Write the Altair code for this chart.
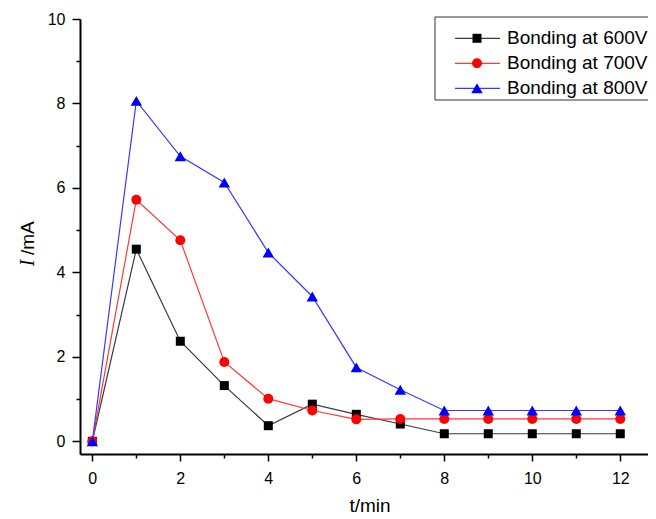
import altair as alt
import pandas as pd

# ---- data ----
t_min = list(range(13))
i_600 = [0.0, 4.55, 2.37, 1.32, 0.37, 0.88, 0.64, 0.41, 0.18, 0.18, 0.18, 0.18, 0.18]
i_700 = [0.0, 5.72, 4.76, 1.88, 1.01, 0.73, 0.52, 0.53, 0.53, 0.53, 0.53, 0.53, 0.53]
i_800 = [0.0, 8.06, 6.75, 6.13, 4.47, 3.43, 1.75, 1.22, 0.73, 0.73, 0.73, 0.73, 0.73]
series_names = ["Bonding at 600V", "Bonding at 700V", "Bonding at 800V"]
x_ticks = list(range(13))
y_ticks = list(range(11))

# ---- styles ----
marker_colors = ["#000000", "#ff0000", "#0000ff"]
line_colors = ["#3a3a3a", "#ff3838", "#3838ff"]
shapes = ["square", "circle", "triangle-up"]
sizes = [81, 100, 130]
FONT = "Liberation Sans"

x_axis = alt.Axis(
    values=x_ticks, title=None, grid=False,
    labelExpr="datum.value % 2 === 0 ? datum.label : ''",
    tickSize={"condition": {"test": "datum.value % 2 === 0", "value": 7}, "value": 4},
    labelFlush=False, labelOverlap=False, labelPadding=9,
)
y_axis = alt.Axis(
    values=y_ticks, title=None, grid=False,
    labelExpr="datum.value % 2 === 0 ? datum.label : ''",
    tickSize={"condition": {"test": "datum.value % 2 === 0", "value": 8}, "value": 4},
    labelFlush=False, labelOverlap=False, labelPadding=7,
)
x_scale = alt.Scale(domain=[-0.28, 12.63], nice=False, zero=False)
y_scale = alt.Scale(domain=[-0.3, 10], nice=False, zero=False)

layers = []
for k, vals in enumerate([i_600, i_700, i_800]):
    df = pd.DataFrame({"t": t_min, "I": vals})
    base = alt.Chart(df).encode(
        x=alt.X("t:Q", scale=x_scale, axis=x_axis),
        y=alt.Y("I:Q", scale=y_scale, axis=y_axis),
    )
    layers.append(base.mark_line(color=line_colors[k], strokeWidth=1.2))
    layers.append(base.mark_point(shape=shapes[k], filled=True, size=sizes[k],
                                  color=marker_colors[k], opacity=1))

# ---- legend (drawn manually) ----
dummy = pd.DataFrame({"a": [0]})
layers.append(alt.Chart(dummy).mark_rect(fill="white", stroke="#333333", strokeWidth=1).encode(
    x=alt.value(355), x2=alt.value(740), y=alt.value(-2), y2=alt.value(81)))
row_y = [19.3, 44.3, 69.3]
for k, name in enumerate(series_names):
    layers.append(alt.Chart(dummy).mark_rule(color=line_colors[k], strokeWidth=1.2).encode(
        x=alt.value(375), x2=alt.value(420), y=alt.value(row_y[k])))
    layers.append(alt.Chart(dummy).mark_point(shape=shapes[k], filled=True, size=sizes[k],
                                              color=marker_colors[k], opacity=1).encode(
        x=alt.value(397), y=alt.value(row_y[k])))
    layers.append(alt.Chart(pd.DataFrame({"s": [name]})).mark_text(
        align="left", baseline="middle", font=FONT, fontSize=19, color="#000000").encode(
        x=alt.value(427), y=alt.value(row_y[k]), text="s:N"))

# ---- axis titles ----
layers.append(alt.Chart(pd.DataFrame({"s": ["t/min"]})).mark_text(
    align="center", baseline="alphabetic", font=FONT, fontSize=19, color="#000000").encode(
    x=alt.value(290), y=alt.value(493), text="s:N"))
layers.append(alt.Chart(pd.DataFrame({"s": ["I"]})).mark_text(
    align="center", baseline="alphabetic", font="Liberation Serif", fontStyle="italic",
    fontSize=20, angle=270, color="#000000").encode(
    x=alt.value(-46), y=alt.value(244), text="s:N"))
layers.append(alt.Chart(pd.DataFrame({"s": ["/mA"]})).mark_text(
    align="left", baseline="alphabetic", font=FONT, fontSize=19, angle=270, color="#000000").encode(
    x=alt.value(-46), y=alt.value(236), text="s:N"))

chart = alt.layer(*layers).properties(
    width=568, height=435,
    autosize=alt.AutoSizeParams(type="none"),
    padding={"left": 72, "top": 11, "right": 0, "bottom": 63},
).configure_view(strokeWidth=0).configure_axis(
    domainColor="#000000", domainWidth=2, tickColor="#000000", tickWidth=1.5,
    labelFont=FONT, labelFontSize=16, labelColor="#000000",
)

chart.save("out.html", embed_options={"renderer": "svg", "actions": False})
